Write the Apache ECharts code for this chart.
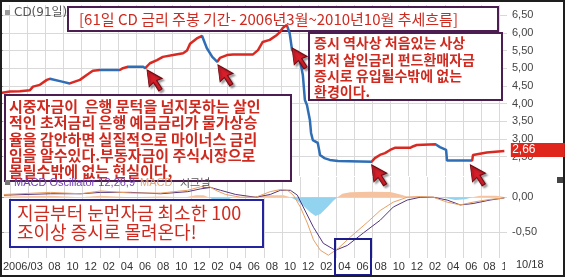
<!DOCTYPE html>
<html><head><meta charset="utf-8">
<script src="https://cdn.jsdelivr.net/npm/echarts@6/dist/echarts.min.js"></script>
<style>html,body{margin:0;padding:0;background:#fff}#c{width:565px;height:278px}</style>
</head><body><div id="c"></div>
<script>
// ---------- data ----------
const cdRate = [
['2006-03-03',4.30],['2006-04-04',4.34],['2006-05-07',4.35],['2006-06-10',4.38],['2006-06-20',4.48],
['2006-07-13',4.53],['2006-08-06',4.67],['2006-08-16',4.70],['2006-09-26',4.62],['2006-10-22',4.57],
['2006-11-25',4.67],['2006-12-18',4.81],['2007-01-08',4.93],['2007-02-01',4.95],['2007-04-07',4.95],
['2007-04-17',5.00],['2007-05-04',5.04],['2007-06-24',5.04],['2007-07-01',5.00],['2007-07-17',5.14],
['2007-08-10',5.23],['2007-08-30',5.32],['2007-10-03',5.37],['2007-11-06',5.42],['2007-11-19',5.50],
['2007-11-29',5.69],['2007-12-22',5.84],['2008-01-09',5.91],['2008-01-25',5.57],['2008-02-12',5.32],
['2008-02-28',5.18],['2008-03-08',5.29],['2008-04-01',5.37],['2008-04-21',5.39],['2008-06-27',5.39],
['2008-07-14',5.51],['2008-07-30',5.74],['2008-08-23',5.80],['2008-09-16',5.94],['2008-09-26',6.02],
['2008-10-06',6.14],['2008-10-19',6.22],['2008-10-29',5.99],['2008-11-06',5.51],['2008-11-19',5.43],
['2008-12-02',5.23],['2008-12-12',4.81],['2008-12-19',4.10],['2008-12-26',3.96],['2009-01-05',3.54],
['2009-01-09',3.17],['2009-01-15',2.97],['2009-02-01',2.89],['2009-02-08',2.55],['2009-02-21',2.46],
['2009-03-11',2.41],['2009-04-08',2.38],['2009-07-30',2.36],['2009-08-10',2.46],['2009-08-27',2.55],
['2009-09-13',2.60],['2009-09-30',2.69],['2009-10-16',2.75],['2009-12-06',2.75],['2009-12-13',2.78],
['2009-12-29',2.83],['2010-02-28',2.85],['2010-03-15',2.77],['2010-04-05',2.69],['2010-04-08',2.39],
['2010-07-01',2.39],['2010-07-04',2.55],['2010-07-08',2.60],['2010-08-20',2.62],['2010-10-18',2.66]
];
const cdFallRanges = [
['2006-08-16','2006-10-22'],['2007-02-01','2007-04-07'],['2007-05-04','2007-07-01'],
['2008-01-09','2008-02-28'],['2008-10-19','2009-07-30'],['2010-02-28','2010-07-01']
];
const macdLine = [
['2006-03-11',0.04],['2006-08-16',0.07],['2006-11-25',0.05],['2007-02-01',0.09],['2007-05-11',0.06],
['2007-08-20',0.06],['2007-11-19',0.10],['2008-01-02',0.15],['2008-01-25',0.17],['2008-02-21',0.10],
['2008-03-25',0.04],['2008-05-15',0.00],['2008-07-04',0.00],['2008-08-23',0.08],['2008-09-26',0.11],
['2008-10-20',0.10],['2008-11-09',0.03],['2008-12-02',-0.14],['2008-12-26',-0.37],['2009-01-16',-0.61],
['2009-02-08',-0.76],['2009-03-05',-0.83],['2009-04-08',-0.73],['2009-05-18',-0.57],['2009-07-14',-0.36],
['2009-08-27',-0.19],['2009-10-10',-0.07],['2009-11-26',0.00],['2010-01-09',0.01],['2010-02-21',0.00],
['2010-04-08',-0.07],['2010-05-22',-0.11],['2010-07-04',-0.07],['2010-08-31',-0.03],['2010-10-18',-0.01]
];
const signalLine = [
['2006-03-11',0.03],['2006-08-16',0.05],['2006-11-25',0.05],['2007-02-01',0.07],['2007-05-11',0.07],
['2007-08-20',0.05],['2007-11-19',0.08],['2008-01-02',0.12],['2008-02-05',0.14],['2008-03-08',0.10],
['2008-04-28',0.04],['2008-07-04',0.00],['2008-08-23',0.04],['2008-09-26',0.10],['2008-10-30',0.10],
['2008-11-22',0.03],['2008-12-12',-0.14],['2009-01-16',-0.43],['2009-02-17',-0.66],['2009-03-29',-0.76],
['2009-05-08',-0.69],['2009-07-01',-0.51],['2009-08-27',-0.33],['2009-10-10',-0.14],['2009-11-26',-0.04],
['2010-01-09',0.00],['2010-02-21',0.00],['2010-04-08',-0.04],['2010-05-22',-0.11],['2010-07-04',-0.09],
['2010-08-31',-0.04],['2010-10-18',-0.01]
];
const oscillator = [
['2006-03-11',0.01],['2006-08-16',0.02],['2006-11-25',0.00],['2007-02-01',0.02],['2007-05-11',-0.01],
['2007-08-20',0.01],['2007-11-12',0.00],['2007-12-16',0.03],['2008-01-12',0.03],['2008-01-29',0.00],
['2008-02-21',-0.05],['2008-03-25',-0.05],['2008-04-18',0.00],['2008-06-17',0.01],['2008-08-23',0.03],
['2008-10-06',0.03],['2008-10-30',0.00],['2008-11-22',-0.05],['2008-12-12',-0.12],['2009-01-06',-0.22],
['2009-01-23',-0.27],['2009-02-08',-0.24],['2009-03-02',-0.14],['2009-03-22',-0.05],['2009-04-05',0.00],
['2009-04-21',0.05],['2009-05-18',0.07],['2009-07-24',0.08],['2009-09-30',0.075],['2009-11-03',0.04],
['2009-11-26',0.01],['2010-01-09',0.01],['2010-03-15',0.005],['2010-04-02',-0.01],['2010-05-05',-0.04],
['2010-06-08',-0.03],['2010-07-01',0.00],['2010-07-28',0.02],['2010-09-17',0.02],['2010-10-18',0.01]
];
const xLabelDates = ['2006-03','2006-08','2006-10','2006-12','2007-02','2007-04','2007-06','2007-08','2007-10','2007-12',
 '2008-02','2008-04','2008-06','2008-08','2008-10','2008-12','2009-02','2009-04','2009-06','2009-08','2009-10','2009-12',
 '2010-02','2010-04','2010-06','2010-08','2010-10'];
const xLabelTexts = ['2006/03','08','10','12','02','04','06','08','10','12',
 '02','04','06','08','10','12','02','04','06','08','10','12',
 '02','04','06','08','10'];
const lastDateLabel = '10/18';
const gridDates = ['2006-04','2006-06'].concat(xLabelDates.slice(1));
const cdTicks = [2.5,3,3.5,4,4.5,5,5.5,6,6.5];
const macdTicks = [0,-0.5];
const lastValueLabel = '2,66';
const arrowTips = [['2007-07-07',4.95],['2008-03-01',5.09],['2008-11-06',5.57],['2009-07-30',2.27],['2010-06-25',2.27]];
const titleText = '[61일 CD 금리 주봉 기간- 2006년3월~2010년10월 추세흐름]';
const rightNote = ['증시 역사상 처음있는 사상','최저 살인금리 펀드환매자금','증시로 유입될수밖에 없는','환경이다.'];
const leftNote = ['시중자금이  은행 문턱을 넘지못하는 살인','적인 초저금리 은행 예금금리가 물가상승','율을 감안하면 실질적으로 마이너스 금리','임을 알수있다.부동자금이 주식시장으로','몰릴수밖에 없는 현실이다,'];
const bottomNote = ['지금부터 눈먼자금 최소한 100','조이상 증시로 몰려온다!'];

// ---------- helpers ----------
function toM(s){
  const p = s.split('-').map(Number);
  const y = p[0], mo = p[1], d = p[2] || 1;
  const dim = new Date(y, mo, 0).getDate();
  return (y - 2006) * 12 + (mo - 3) + (d - 1) / dim;
}
const pts = a => a.map(r => [toM(r[0]), r[1]]);
const fmtNum = v => v.toFixed(2).replace('.', ',');
const RED = '#d82a22', BLUE = '#2f6db5', GRIDC = '#d9d9d9', NOTE = '#cf2a1f';
const FONT = 'Liberation Sans, Arial, sans-serif';
const KFONT = 'Noto Sans CJK KR, sans-serif';
const X_MAX = 55.84;
const gridVals = gridDates.map(toM);
const labelVals = xLabelDates.map(toM);
const lastPt = cdRate[cdRate.length - 1];

const chart = echarts.init(document.getElementById('c'));

const xBase = (gi, showLabels) => ({
  type: 'value', gridIndex: gi, min: 0, max: X_MAX,
  axisLine: {show: false},
  splitLine: {show: true, lineStyle: {color: GRIDC, width: 1}},
  axisTick: {show: showLabels, customValues: gridVals, length: 13, lineStyle: {color: GRIDC}},
  axisLabel: showLabels ? {
    show: true, customValues: labelVals, align: 'left', margin: 3,
    fontFamily: FONT, fontSize: 11, color: '#333', padding: [0, 0, 0, 2],
    formatter: (v) => {
      const i = labelVals.findIndex(x => Math.abs(x - v) < 1e-6);
      return i < 0 ? '' : xLabelTexts[i];
    }
  } : {show: false}
});

const arrowPath = 'path://M0 0 L2 16 L6 12 L11 20 L14 18 L9 10 L14 8 Z';

const g = [];
function box(x, y, w, h, stroke, fill, z){
  g.push({type: 'rect', z: z || 100, shape: {x: x, y: y, width: w, height: h},
    style: {fill: fill, stroke: stroke, lineWidth: 2}});
}
function txt(x, y, s, size, color, weight, font, z){
  g.push({type: 'text', z: z || 101, x: x, y: y,
    style: {text: s, fill: color, font: (weight || 'normal') + ' ' + size + 'px ' + (font || KFONT), verticalAlign: 'middle'}});
}
// series legend
g.push({type: 'rect', z: 101, shape: {x: 5, y: 10, width: 5, height: 5}, style: {fill: '#9a9a9a'}});
txt(14, 13, 'CD(91일)', 12, '#555', 'normal', 'DejaVu Sans, ' + KFONT);
// title (below the data line)
box(68, 7, 430, 24, '#4b1d50', '#fff', 1);
txt(79, 19.5, titleText, 15, NOTE, 'normal', KFONT, 1);
// right note
box(309, 33, 193, 67, '#4b1d50', '#fff');
rightNote.forEach((s, i) => txt(314, 43 + i * 16.3, s, 14, NOTE, 'bold'));
// left note
box(5, 95, 286, 86, '#4b1d50', '#fff');
leftNote.forEach((s, i) => txt(9, 106.5 + i * 16.2, s, 15, NOTE, 'bold'));
// macd legend
g.push({type: 'rect', z: 101, shape: {x: 5, y: 180, width: 5, height: 5}, style: {fill: '#777'}});
txt(14, 183, 'MACD Oscillator 12,26,9', 11, '#7442b4', 'normal', FONT);
txt(140, 183, 'MACD', 11, '#e9a574', 'normal', FONT);
txt(180, 183, '시그널', 11, '#555', 'normal', KFONT);
// bottom note
box(10, 200, 253, 47, '#2424a0', '#fff');
bottomNote.forEach((s, i) => txt(17, 213.5 + i * 19, s, 18, NOTE, 'normal'));
// highlight box on axis
box(335, 239, 36, 36, '#1c1c8c', 'transparent');
// last date label on the x axis
g.push({type: 'text', z: 101, x: 505, y: 265,
  style: {text: lastDateLabel, fill: '#333', font: '11px ' + FONT, verticalAlign: 'middle',
          backgroundColor: '#fff', padding: [1, 6, 1, 11]}});
// frame
g.push({type: 'rect', z: 102, shape: {x: 1, y: 1, width: 563, height: 275}, style: {fill: 'transparent', stroke: '#1e1e1e', lineWidth: 2}});
g.push({type: 'rect', z: 102, shape: {x: 557, y: 177, width: 6, height: 6}, style: {fill: '#444'}});

const oscPos = oscillator.map(r => [toM(r[0]), Math.max(0, r[1])]);
const oscNeg = oscillator.map(r => [toM(r[0]), Math.min(0, r[1])]);

chart.setOption({
  animation: false,
  backgroundColor: '#fff',
  grid: [
    {left: 0, top: 5, width: 507, height: 171},
    {left: 0, top: 177, width: 507, height: 81}
  ],
  xAxis: [xBase(0, false), xBase(1, true)],
  yAxis: [
    {type: 'value', gridIndex: 0, position: 'right', min: 1.955, max: 6.785,
     axisLine: {show: true, lineStyle: {color: '#999'}},
     axisTick: {show: true, customValues: cdTicks, length: 3, lineStyle: {color: '#999'}},
     splitLine: {show: true, lineStyle: {color: GRIDC}},
     axisLabel: {customValues: cdTicks, formatter: fmtNum, fontFamily: FONT, fontSize: 11, color: '#444', margin: 5}},
    {type: 'value', gridIndex: 1, position: 'right', min: -0.87, max: 0.29,
     axisLine: {show: true, lineStyle: {color: '#999'}},
     axisTick: {show: true, customValues: macdTicks, length: 3, lineStyle: {color: '#999'}},
     splitLine: {show: true, lineStyle: {color: GRIDC}},
     axisLabel: {customValues: macdTicks, formatter: fmtNum, fontFamily: FONT, fontSize: 11, color: '#444', margin: 5}}
  ],
  visualMap: {
    show: false, type: 'piecewise', seriesIndex: 0, dimension: 0,
    pieces: cdFallRanges.map(r => ({gte: toM(r[0]), lte: toM(r[1]), color: BLUE})),
    outOfRange: {color: RED}
  },
  series: [
    {type: 'line', name: 'CD(91일)', xAxisIndex: 0, yAxisIndex: 0, data: pts(cdRate),
     symbol: 'none', lineStyle: {width: 2.5}, z: 5,
     markPoint: {
       z: 110,
       data: arrowTips.map(a => ({coord: [toM(a[0]), a[1]], symbol: arrowPath, symbolSize: [15, 21], symbolOffset: [7.5, 10.5],
         itemStyle: {color: '#d61f2b', borderColor: '#700a12', borderWidth: 1, shadowColor: 'rgba(0,0,0,0.35)', shadowBlur: 2, shadowOffsetX: 2, shadowOffsetY: 2},
         label: {show: false}})).concat([{
         coord: [toM(lastPt[0]), lastPt[1]], symbol: 'rect', symbolSize: [54, 14], symbolOffset: [33.5, -1],
         itemStyle: {color: '#e0261c'},
         label: {show: true, position: 'inside', offset: [-14, 0], formatter: lastValueLabel, color: '#fff', fontFamily: FONT, fontSize: 12}
       }])
     }},
    {type: 'line', xAxisIndex: 1, yAxisIndex: 1, data: oscPos, symbol: 'none', lineStyle: {width: 0},
     areaStyle: {color: '#f6c3a0', opacity: 1}, z: 2},
    {type: 'line', xAxisIndex: 1, yAxisIndex: 1, data: oscNeg, symbol: 'none', lineStyle: {width: 0},
     areaStyle: {color: '#92d3f0', opacity: 1}, z: 2},
    {type: 'line', xAxisIndex: 1, yAxisIndex: 1, data: pts(signalLine), symbol: 'none',
     lineStyle: {width: 1, color: '#55357f'}, z: 3},
    {type: 'line', xAxisIndex: 1, yAxisIndex: 1, data: pts(macdLine), symbol: 'none',
     lineStyle: {width: 1, color: '#e8a064'}, z: 3}
  ],
  graphic: g
});
</script>
</body></html>
